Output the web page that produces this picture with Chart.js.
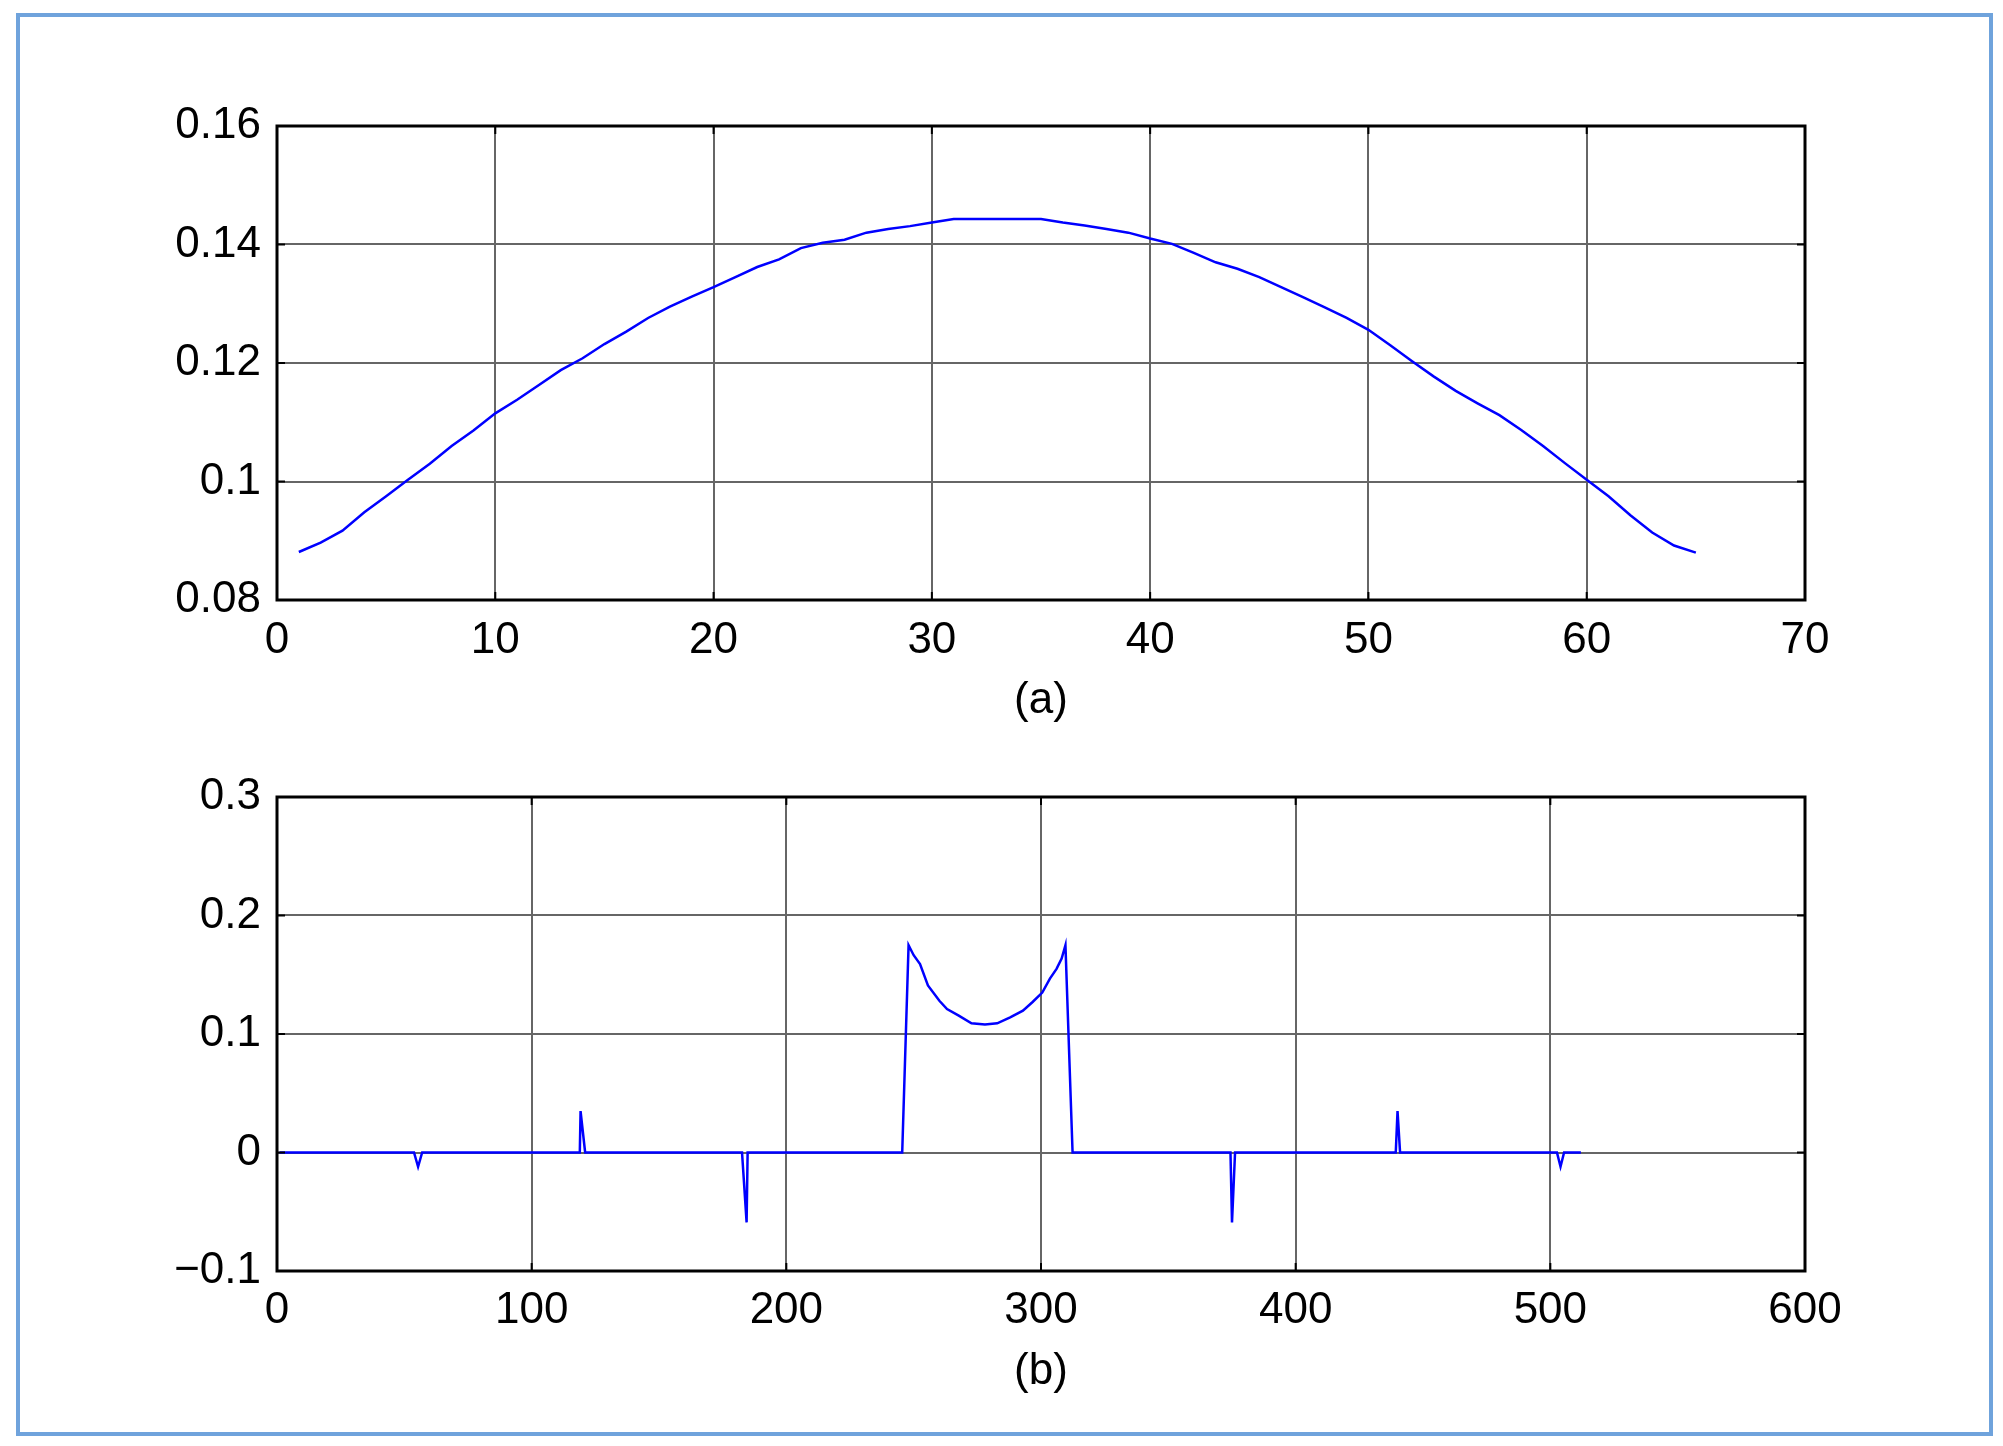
<!DOCTYPE html>
<html>
<head>
<meta charset="utf-8">
<script src="https://cdn.jsdelivr.net/npm/chart.js@4.4.1/dist/chart.umd.min.js"></script>
<style>
    html, body { margin: 0; padding: 0; background: #fff; }
    body { width: 2003px; height: 1446px; position: relative; overflow: hidden; }
    #frame { position: absolute; left: 16px; top: 13px; width: 1969px; height: 1415px; border: 4px solid #6fa3dc; }
    canvas { position: absolute; left: 0; }
</style>
</head>
<body>
<div id="frame"></div>
<canvas id="chart-a" width="2003" height="740" style="top:0"></canvas>
<canvas id="chart-b" width="2003" height="706" style="top:740px"></canvas>
<script>
// (a) 65 samples
const xA = [1,2,3,4,5,6,7,8,9,10,11,12,13,14,15,16,17,18,19,20,21,22,23,24,25,26,27,28,29,30,31,32,33,
    34,35,36,37,38,39,40,41,42,43,44,45,46,47,48,49,50,51,52,53,54,55,56,57,58,59,60,61,62,63,64,65];
const yA = [0.0881,0.0897,0.0917,0.0948,0.0975,0.1003,0.1030,0.1060,0.1086,0.1115,0.1138,0.1163,0.1188,
    0.1208,0.1232,0.1253,0.1276,0.1295,0.1312,0.1328,0.1345,0.1362,0.1375,0.1394,0.1403,0.1408,0.1420,
    0.1426,0.1431,0.1437,0.1443,0.1443,0.1443,0.1443,0.1443,0.1437,0.1432,0.1426,0.1420,0.1410,0.1401,
    0.1386,0.1370,0.1359,0.1345,0.1328,0.1311,0.1294,0.1276,0.1256,0.1230,0.1203,0.1177,0.1153,0.1132,
    0.1112,0.1087,0.1060,0.1031,0.1003,0.0975,0.0943,0.0914,0.0892,0.0880];
const xTicksA = [0, 10, 20, 30, 40, 50, 60, 70];
const yTicksA = [0.08, 0.1, 0.12, 0.14, 0.16];
const yLabelsA = ['0.08', '0.1', '0.12', '0.14', '0.16'];

// (b) corner points of the trace
const xB = [1, 53.8, 55.4, 57, 118.9, 119.2, 121, 182.6, 184.4, 184.8, 245.5, 248, 250, 252.5, 255.6,
    260.1, 263.1, 267.7, 272.7, 278, 282.8, 287.9, 292.9, 296.7, 300.5, 303.5, 306.1, 308.1, 309.6, 312.4,
    374.4, 375, 376.2, 439.3, 440, 441, 502.6, 504, 505.4, 512];
const yB = [0, 0, -0.012, 0, 0, 0.035, 0, 0, -0.059, 0, 0, 0.175, 0.1665, 0.159, 0.141, 0.128, 0.121,
    0.1155, 0.109, 0.108, 0.109, 0.114, 0.1197, 0.127, 0.135, 0.1467, 0.155, 0.1637, 0.175, 0,
    0, -0.059, 0, 0, 0.035, 0, 0, -0.012, 0, 0];
const xTicksB = [0, 100, 200, 300, 400, 500, 600];
const yTicksB = [-0.1, 0, 0.1, 0.2, 0.3];
const yLabelsB = ['\u22120.1', '0', '0.1', '0.2', '0.3'];

const font = { family: '"Liberation Sans", Arial, sans-serif', size: 44 };
const gridColor = '#666666';

// matlab style closed box with inward tick marks
const boxPlugin = {
    id: 'box',
    afterDatasetsDraw(chart) {
        const { ctx, chartArea: a, scales } = chart;
        ctx.save();
        ctx.strokeStyle = '#000';
        ctx.lineWidth = 2;
        ctx.beginPath();
        scales.x.ticks.forEach(function (t) {
            const px = scales.x.getPixelForValue(t.value);
            ctx.moveTo(px, a.top); ctx.lineTo(px, a.top + 8);
            ctx.moveTo(px, a.bottom); ctx.lineTo(px, a.bottom - 8);
        });
        scales.y.ticks.forEach(function (t) {
            const py = scales.y.getPixelForValue(t.value);
            ctx.moveTo(a.left, py); ctx.lineTo(a.left + 8, py);
            ctx.moveTo(a.right, py); ctx.lineTo(a.right - 8, py);
        });
        ctx.stroke();
        ctx.lineWidth = 3;
        ctx.strokeRect(a.left, a.top, a.right - a.left, a.bottom - a.top);
        ctx.restore();
    }
};

function makeChart(id, xs, ys, xTicks, yTicks, yLabels, title, opt) {
    const canvas = document.getElementById(id);
    return new Chart(canvas, {
        type: 'line',
        data: {
            datasets: [{
                data: xs.map(function (x, i) { return { x: x, y: ys[i] }; }),
                borderColor: '#0000ff',
                borderWidth: 2.5,
                pointRadius: 0,
                tension: 0,
                fill: false
            }]
        },
        options: {
            responsive: false,
            animation: false,
            events: [],
            layout: { padding: { left: 0, right: 198, top: opt.top, bottom: 0 } },
            plugins: { legend: { display: false }, tooltip: { enabled: false } },
            scales: {
                x: {
                    type: 'linear',
                    min: xTicks[0],
                    max: xTicks[xTicks.length - 1],
                    afterBuildTicks: function (s) { s.ticks = xTicks.map(function (v) { return { value: v }; }); },
                    afterFit: function (s) { s.height = canvas.height - opt.top - opt.plotH; },
                    border: { display: false },
                    grid: { color: gridColor, lineWidth: 2, drawTicks: false },
                    ticks: { font: font, color: '#000', padding: opt.xPad, autoSkip: false, maxRotation: 0,
                        callback: function (v) { return String(v); } },
                    title: { display: true, text: title, font: font, color: '#000',
                        padding: { top: 0, bottom: opt.titlePad } }
                },
                y: {
                    type: 'linear',
                    min: yTicks[0],
                    max: yTicks[yTicks.length - 1],
                    afterBuildTicks: function (s) { s.ticks = yTicks.map(function (v) { return { value: v }; }); },
                    afterFit: function (s) { s.width = 277; },
                    border: { display: false },
                    grid: { color: gridColor, lineWidth: 2, drawTicks: false },
                    ticks: { font: font, color: '#000', padding: 16, autoSkip: false,
                        callback: function (v, i) { return yLabels[i]; } }
                }
            }
        },
        plugins: [boxPlugin]
    });
}

makeChart('chart-a', xA, yA, xTicksA, yTicksA, yLabelsA, '(a)', { top: 126, plotH: 474, xPad: 14, titlePad: 13 });
makeChart('chart-b', xB, yB, xTicksB, yTicksB, yLabelsB, '(b)', { top: 57, plotH: 474, xPad: 13, titlePad: 48 });
</script>
</body>
</html>
